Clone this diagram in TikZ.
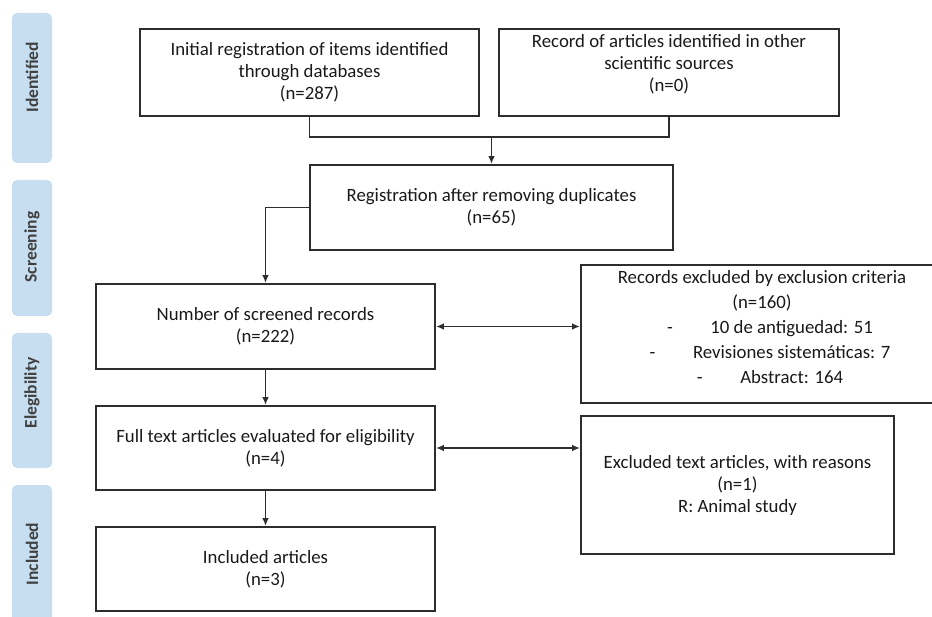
\documentclass[tikz,border=0pt]{standalone}
\usepackage{fontspec}
\setmainfont{Carlito}
\usetikzlibrary{arrows.meta}
\definecolor{barblue}{RGB}{198,222,240}
\definecolor{bartext}{RGB}{64,64,64}
\definecolor{boxline}{RGB}{45,45,45}
\tikzset{
  box/.style={draw=boxline, line width=1.8pt, align=center, inner sep=0pt,
    text=black!90, font=\fontsize{18.8}{22}\selectfont},
  bar/.style={fill=barblue, rounded corners=5pt},
  barlabel/.style={rotate=90, font=\fontsize{17.5}{20}\selectfont\bfseries, text=bartext},
  plain/.style={draw=boxline, line width=1.8pt},
  link/.style={plain, -{Latex[length=8pt,width=6.5pt]}},
  twoway/.style={plain, {Latex[length=8pt,width=6.5pt]}-{Latex[length=8pt,width=6.5pt]}},
}
\begin{document}
\begin{tikzpicture}[x=1pt,y=-1pt]
\useasboundingbox (0,0) rectangle (932,617);
% stage bars
\fill[bar] (12,13) rectangle (52,163);
\fill[bar] (12,180) rectangle (52,316);
\fill[bar] (12,333) rectangle (52,468);
\fill[bar] (12,485) rectangle (52,640);
\node[barlabel] (lblident) at (32,77) {Identified};
\node[barlabel] (lblscreen) at (32,247) {Screening};
\node[barlabel] (lblelig) at (32,393) {Elegibility};
\node[barlabel] (lblincl) at (32,554) {Included};
% boxes
\node[box, minimum width=339pt, minimum height=87pt] (initial) at (309.5,72.5)
  {Initial registration of items identified\\through databases\\(n=287)};
\node[box, minimum width=340pt, minimum height=87pt] (other) at (669,72.5)
  {Record of articles identified in other\\scientific sources\\(n=0)\\[-3pt]\mbox{}};
\node[box, minimum width=363pt, minimum height=85pt] (nodup) at (491.5,207.5)
  {Registration after removing duplicates\\(n=65)};
\node[box, minimum width=339pt, minimum height=85pt] (screened) at (265.5,326.5)
  {Number of screened records\\(n=222)};
\node[box, minimum width=362pt, minimum height=138pt, font=\fontsize{18.8}{25}\selectfont] (exclcrit) at (762,334)
  {Records excluded by exclusion criteria\\(n=160)\\
   \hspace*{16pt}-\hspace{2em}10 de antiguedad: 51\\
   \hspace*{16pt}-\hspace{2em}Revisiones sistemáticas: 7\\
   \hspace*{16pt}-\hspace{2em}Abstract: 164\\[-11pt]\mbox{}};
\node[box, minimum width=339pt, minimum height=84pt] (fulltext) at (265.5,448)
  {Full text articles evaluated for eligibility\\(n=4)};
\node[box, minimum width=313pt, minimum height=138pt] (excltext) at (737.5,485)
  {Excluded text articles, with reasons\\(n=1)\\R: Animal study};
\node[box, minimum width=339pt, minimum height=84pt] (included) at (265.5,569)
  {Included articles\\(n=3)};
% connectors
\coordinate (merge) at (491.5,137);
\draw[plain] (initial.south) |- (merge) -| (other.south);
\draw[link] (merge) -- (nodup.north);
\draw[link] (nodup.west) -| (screened.north);
\draw[link] (screened.south) -- (fulltext.north);
\draw[link] (fulltext.south) -- (included.north);
\draw[twoway] (screened.east) -- (screened.east -| exclcrit.west);
\draw[twoway] (fulltext.east) -- (fulltext.east -| excltext.west);
\end{tikzpicture}
\end{document}
